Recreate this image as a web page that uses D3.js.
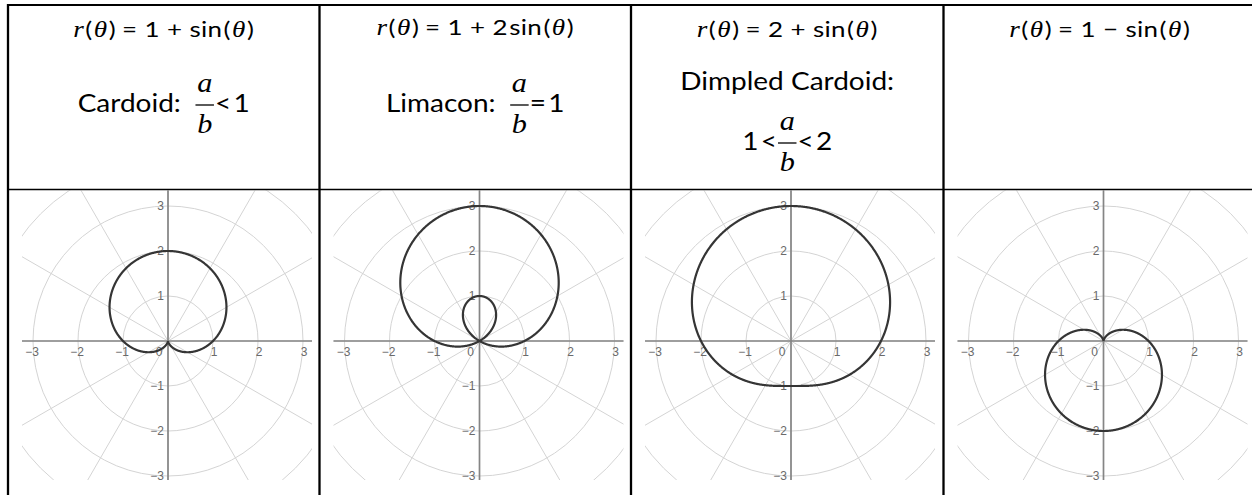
<!DOCTYPE html>
<html lang="en">
<head>
<meta charset="utf-8">
<title>Polar curves: cardioid, limacon, dimpled cardioid</title>
<script src="https://d3js.org/d3.v7.min.js"></script>
<style>
body { margin: 0; background: #fff; }
svg { display: block; }
.grid { fill: none; stroke: #d4d4d4; stroke-width: 1; }
.axis { stroke: #858585; stroke-width: 1.7; }
.tickLabel { font-family: "Liberation Sans", Arial, sans-serif; font-size: 12px; fill: #6a6a6a; }
.curve { fill: none; stroke: #353535; stroke-width: 2.2; }
.up { font-family: "Lato", "Open Sans", sans-serif; fill: #000; }
.it { font-family: "Liberation Serif", serif; font-style: italic; fill: #000; }
</style>
</head>
<body>
<script>
// r(theta) = a + b*sin(theta) for each column
var constA = [1, 1, 2, 1];
var coefB = [1, 2, 1, -1];
var curveNames = ["Cardoid:", "Limacon:", "Dimpled Cardoid:", ""];
var ratioLeft = ["", "", "1<", null];
var ratioRight = ["<1", "=1", "<2", null];
var tickValues = [-3, -2, -1, 0, 1, 2, 3];
var ringRadii = [1, 2, 3, 4];
var spokeAngles = [0, 30, 60, 90, 120, 150, 180, 210, 240, 270, 300, 330];

var W = 1252, H = 495;
var colX = [8, 319.5, 631, 943.5, 1256];
var headerY = 189.5;
var unit = 45, originY = 341;

var svg = d3.select("body").append("svg")
    .attr("width", W)
    .attr("height", H);

var defs = svg.append("defs");

// lay out a row of text pieces, centred on cx, stretched by sx
function textRow(g, cx, base, pieces, size, sx, ls) {
    var row = g.append("g");
    var x = 0;
    pieces.forEach(function(p) {
        if (p.frac) {
            var fa = row.append("text").attr("class", "it").attr("font-size", 27).text(p.frac[0]);
            var fb = row.append("text").attr("class", "it").attr("font-size", 27).text(p.frac[1]);
            var w = Math.max(fa.node().getComputedTextLength(), fb.node().getComputedTextLength()) + 3;
            fa.attr("x", x + w / 2).attr("y", base - 20).attr("text-anchor", "middle");
            fb.attr("x", x + w / 2).attr("y", base + 21).attr("text-anchor", "middle");
            row.append("line")
                .attr("x1", x).attr("x2", x + w)
                .attr("y1", base - 7).attr("y2", base - 7)
                .attr("stroke", "#000").attr("stroke-width", 1.3);
            x += w + 1;
        } else {
            x += p.pre || 0;
            var t = row.append("text")
                .attr("class", p.it ? "it" : "up")
                .attr("font-size", p.size || size)
                .attr("letter-spacing", ls || 0)
                .attr("x", x).attr("y", base)
                .text(p.t);
            x += t.node().getComputedTextLength() + (p.post || 0);
        }
    });
    row.attr("transform", "translate(" + (cx - x * sx / 2) + ",0) scale(" + sx + ",1)");
}

constA.forEach(function(a, i) {
    var left = colX[i], right = colX[i + 1];
    var cx = (left + right) / 2;
    var b = coefB[i];

    // header formula
    var g = svg.append("g");
    var pieces = [
        {t: "r", it: true, size: 23, post: 1}, {t: "(", post: 1}, {t: "θ", it: true, size: 23, post: 1}, {t: ")", post: 5},
        {t: "=", post: 6}, {t: String(a), post: 6},
        {t: b < 0 ? "−" : "+", post: 6}
    ];
    if (Math.abs(b) !== 1) pieces.push({t: String(Math.abs(b)), post: 1});
    pieces.push({t: "sin", post: 1}, {t: "(", post: 1}, {t: "θ", it: true, size: 23, post: 1}, {t: ")"});
    textRow(g, cx, i === 1 ? 35 : 37, pieces, 22, 1.18, 0.3);

    // name and ratio
    if (ratioRight[i] !== null) {
        if (ratioLeft[i] === "") {
            textRow(g, cx, 112, [
                {t: curveNames[i], post: 13},
                {frac: ["a", "b"]},
                {t: ratioRight[i].charAt(0), post: 2},
                {t: ratioRight[i].slice(1)}
            ], 25, 1.12);
        } else {
            textRow(g, cx, 90, [{t: curveNames[i]}], 25, 1.12);
            textRow(g, cx, 150, [
                {t: ratioLeft[i].charAt(0), post: 2},
                {t: ratioLeft[i].slice(1), post: 1},
                {frac: ["a", "b"]},
                {t: ratioRight[i].charAt(0), post: 2},
                {t: ratioRight[i].slice(1)}
            ], 25, 1.12);
        }
    }

    // polar plot
    var ox = left + 160;
    var xs = d3.scaleLinear().domain([0, 1]).range([ox, ox + unit]);
    var ys = d3.scaleLinear().domain([0, 1]).range([originY, originY - unit]);

    defs.append("clipPath").attr("id", "clip" + i)
        .append("rect")
        .attr("x", ox - 146).attr("y", headerY + 1)
        .attr("width", 290).attr("height", 480 - headerY - 1);

    var p = svg.append("g").attr("clip-path", "url(#clip" + i + ")");

    p.selectAll("circle.grid").data(ringRadii).enter()
        .append("circle").attr("class", "grid")
        .attr("cx", xs(0)).attr("cy", ys(0))
        .attr("r", function(d) { return xs(d) - xs(0); });

    p.selectAll("line.grid").data(spokeAngles).enter()
        .append("line").attr("class", "grid")
        .attr("x1", xs(0)).attr("y1", ys(0))
        .attr("x2", function(d) { return xs(6 * Math.cos(d * Math.PI / 180)); })
        .attr("y2", function(d) { return ys(6 * Math.sin(d * Math.PI / 180)); });

    p.append("line").attr("class", "axis")
        .attr("x1", xs(-5)).attr("x2", xs(5)).attr("y1", ys(0)).attr("y2", ys(0));
    p.append("line").attr("class", "axis")
        .attr("x1", xs(0)).attr("x2", xs(0)).attr("y1", ys(-5)).attr("y2", ys(5));

    var fmt = function(d) { return d < 0 ? "−" + Math.abs(d) : String(d); };

    p.selectAll("text.xl").data(tickValues).enter()
        .append("text").attr("class", "tickLabel xl")
        .attr("x", function(d) { return d === 0 ? xs(0) - 9 : xs(d) + (d < 0 ? -1 : 1); })
        .attr("y", ys(0) + 15)
        .attr("text-anchor", "middle")
        .text(fmt);

    p.selectAll("text.yl").data(tickValues.filter(function(d) { return d !== 0; })).enter()
        .append("text").attr("class", "tickLabel yl")
        .attr("x", xs(0) - 4)
        .attr("y", function(d) { return ys(d); })
        .attr("dy", "0.36em")
        .attr("text-anchor", "end")
        .text(fmt);

    var thetas = d3.range(0, 2 * Math.PI + 0.005, 0.005);
    var line = d3.line()
        .x(function(t) { return xs((a + b * Math.sin(t)) * Math.cos(t)); })
        .y(function(t) { return ys((a + b * Math.sin(t)) * Math.sin(t)); });

    p.append("path").attr("class", "curve").datum(thetas).attr("d", line);
});

// table rules
svg.append("line").attr("x1", 7).attr("x2", W).attr("y1", 5).attr("y2", 5)
    .attr("stroke", "#000").attr("stroke-width", 2);
svg.append("line").attr("x1", 8).attr("x2", W).attr("y1", headerY).attr("y2", headerY)
    .attr("stroke", "#000").attr("stroke-width", 1.3);
svg.selectAll("line.vrule").data(colX.slice(0, 4)).enter()
    .append("line").attr("class", "vrule")
    .attr("x1", function(d) { return d; }).attr("x2", function(d) { return d; })
    .attr("y1", 4).attr("y2", H)
    .attr("stroke", "#000").attr("stroke-width", 2.3);
</script>
</body>
</html>
